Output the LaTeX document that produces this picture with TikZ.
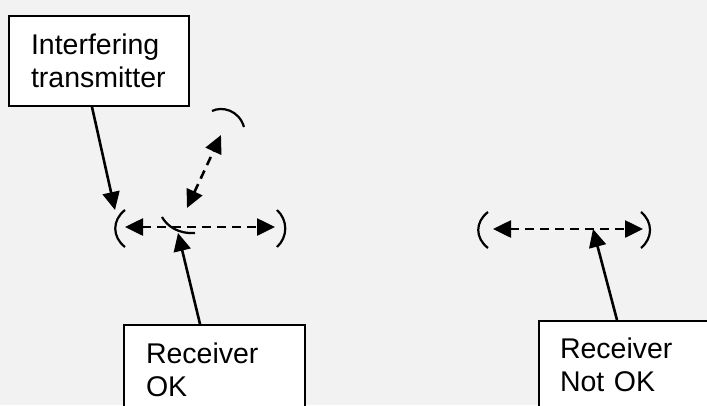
\documentclass[tikz,border=0pt]{standalone}
\usepackage{fontspec}
\setmainfont{Liberation Sans}
\usetikzlibrary{arrows.meta}
\definecolor{bggray}{HTML}{F2F2F2}

\begin{document}
\begin{tikzpicture}[x=1pt, y=-1pt,
    box/.style={draw, line width=2pt, fill=white, rectangle, anchor=north west,
        align=left, inner xsep=22pt, inner ysep=18pt,
        font=\fontsize{28.5}{33}\selectfont},
    tip/.tip={Triangle[length=18pt,width=17pt]},
    ptr/.style={line width=2.6pt, -tip},
    sig/.style={line width=2.6pt, dash pattern=on 9pt off 6pt, tip-tip},
    brk/.style={line width=2.2pt}]
    % Background
    \fill[bggray] (0,0) rectangle (707,405);
    \clip (0,0) rectangle (707,405);

    % Draw nodes
    \node[box, text width=136pt] (ifr) at (8,15) {Interfering\\transmitter};
    \node[box, text width=137pt] (rxok) at (123,324) {Receiver\\OK};
    \node[box, text width=180pt, inner xsep=21pt, inner ysep=16.6pt] (rxnok) at (538,320) {Receiver\\Not OK};

    % Points hit by the arrows
    \coordinate (lwl) at (125,227);
    \coordinate (lwr) at (275,227);
    \coordinate (rwl) at (493,229);
    \coordinate (rwr) at (643,229);
    \coordinate (dlo) at (187,208);
    \coordinate (dhi) at (221,135);
    \coordinate (ifhit) at (115,210);
    \coordinate (okhit) at (178,233);
    \coordinate (nokhit) at (593,229);

    % Draw wave fronts
    \draw[brk] (125,210) .. controls (112,220) and (112,237) .. (125,247);
    \draw[brk] (277,210) .. controls (288,220) and (288,237) .. (277,247);
    \draw[brk] (162,217) .. controls (167,226) and (178,234) .. (195,233);
    \draw[brk] (212,111) .. controls (222,106) and (239,110) .. (244,127);
    \draw[brk] (488,212) .. controls (475,222) and (475,238) .. (488,248);
    \draw[brk] (641,212) .. controls (653,222) and (653,238) .. (641,248);

    % Draw connections
    \draw[sig] (lwl) -- (lwr);
    \draw[sig] (dlo) -- (dhi);
    \draw[sig] (rwl) -- (rwr);
    \draw[ptr] ([xshift=84pt]ifr.south west) -- (ifhit);
    \draw[ptr] ([xshift=77pt]rxok.north west) -- (okhit);
    \draw[ptr] ([xshift=79pt]rxnok.north west) -- (nokhit);
\end{tikzpicture}
\end{document}
